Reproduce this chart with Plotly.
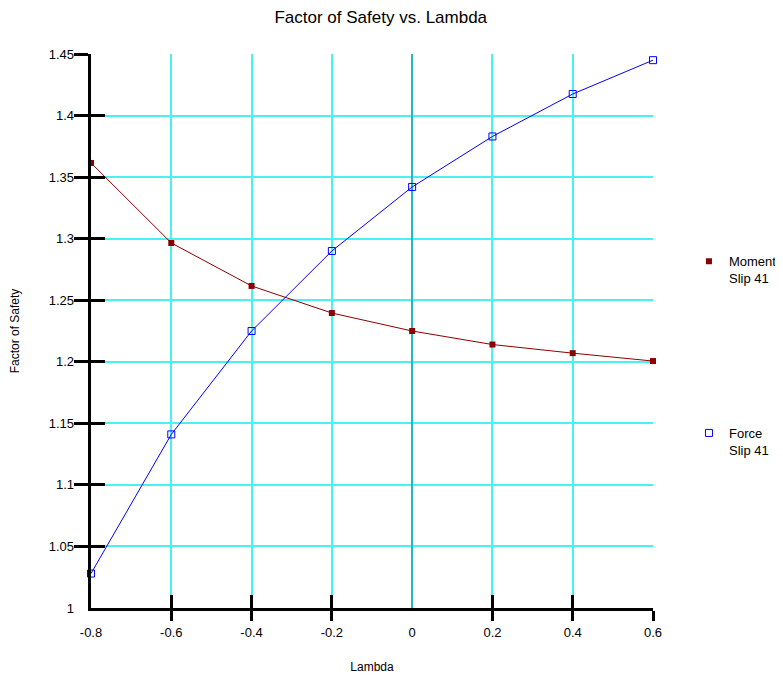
import plotly.graph_objects as go

lambdas = [-0.8, -0.6, -0.4, -0.2, 0.0, 0.2, 0.4, 0.6]
moment_fs = [1.3615, 1.2965, 1.2616, 1.2396, 1.2250, 1.2140, 1.2070, 1.2006]
force_fs = [1.0280, 1.1410, 1.2250, 1.2900, 1.3420, 1.3830, 1.4175, 1.4450]

x_ticks = [-0.8, -0.6, -0.4, -0.2, 0.0, 0.2, 0.4, 0.6]
x_tick_marks = [-0.6, -0.4, -0.2, 0.2, 0.4, 0.6]
y_ticks = [1.0, 1.05, 1.1, 1.15, 1.2, 1.25, 1.3, 1.35, 1.4, 1.45]
y_tick_marks = [1.05, 1.1, 1.15, 1.2, 1.25, 1.3, 1.35, 1.4, 1.45]

FONT = "Liberation Sans, Arial, sans-serif"
GRID = "#48f2f2"
XR = [-0.8, 0.6]
YR = [1.0, 1.45]

fig = go.Figure()
fig.add_trace(go.Scatter(
    x=lambdas, y=moment_fs, mode="lines+markers", showlegend=False,
    line=dict(color="#8b0000", width=1),
    marker=dict(symbol="square", size=6, color="#8b0000"),
    cliponaxis=False))
fig.add_trace(go.Scatter(
    x=lambdas, y=force_fs, mode="lines+markers", showlegend=False,
    line=dict(color="#0000ff", width=1),
    marker=dict(symbol="square-open", size=7, color="#0000ff", line=dict(width=1)),
    cliponaxis=False))
# legend entries (marker only)
fig.add_trace(go.Scatter(x=[None], y=[None], mode="markers", name="Moment<br>Slip 41",
                         marker=dict(symbol="square", size=6, color="#8b0000"),
                         legend="legend"))
fig.add_trace(go.Scatter(x=[None], y=[None], mode="markers", name="Force<br>Slip 41",
                         marker=dict(symbol="square-open", size=7, color="#0000ff",
                                     line=dict(width=1)),
                         legend="legend2"))
# empty traces so overlay axes render
fig.add_trace(go.Scatter(x=[None], y=[None], xaxis="x2", yaxis="y", showlegend=False, hoverinfo="skip"))
fig.add_trace(go.Scatter(x=[None], y=[None], xaxis="x3", yaxis="y", showlegend=False, hoverinfo="skip"))
fig.add_trace(go.Scatter(x=[None], y=[None], xaxis="x", yaxis="y2", showlegend=False, hoverinfo="skip"))
fig.add_trace(go.Scatter(x=[None], y=[None], xaxis="x", yaxis="y3", showlegend=False, hoverinfo="skip"))

common_off = dict(showgrid=False, zeroline=False, showline=False, automargin=False)

fig.update_layout(
    width=775, height=669,
    margin=dict(l=83, r=130, t=46, b=69, autoexpand=False),
    paper_bgcolor="white", plot_bgcolor="white",
    font=dict(family=FONT, size=13, color="black"),
    title=dict(text="Factor of Safety vs. Lambda", x=0.481, xanchor="center",
               y=0.9865, yanchor="middle", font=dict(size=17, family=FONT)),
    # main axes: grid, axis lines, outside tick marks
    xaxis=dict(range=XR, tickvals=x_tick_marks, showticklabels=False,
               ticks="outside", ticklen=10, tickwidth=3, tickcolor="black",
               showgrid=True, gridcolor=GRID, gridwidth=1.5,
               zeroline=True, zerolinecolor="#22b8c8", zerolinewidth=2,
               showline=True, linecolor="black", linewidth=3, automargin=False),
    yaxis=dict(range=YR, tickvals=y_tick_marks, showticklabels=False,
               ticks="outside", ticklen=14, tickwidth=3, tickcolor="black",
               showgrid=True, gridcolor=GRID, gridwidth=1.5, zeroline=False,
               showline=True, linecolor="black", linewidth=3, automargin=False),
    # label axes
    xaxis2=dict(overlaying="x", anchor="y", side="bottom", range=XR,
                tickvals=x_ticks, ticktext=[f"{v:g}" for v in x_ticks],
                ticks="", ticklabelstandoff=15,
                title=dict(text="Lambda", font=dict(size=12), standoff=23),
                **common_off),
    yaxis2=dict(overlaying="y", anchor="x", side="left", range=YR,
                tickvals=y_ticks, ticktext=[f"{v:g}" for v in y_ticks],
                ticks="", ticklabelstandoff=16,
                title=dict(text="Factor of Safety", font=dict(size=12), standoff=42),
                **common_off),
    # inside tick marks
    xaxis3=dict(overlaying="x", anchor="y", side="bottom", range=XR,
                tickvals=x_tick_marks, ticks="inside", ticklen=13, tickwidth=3,
                tickcolor="black", showticklabels=False, **common_off),
    yaxis3=dict(overlaying="y", anchor="x", side="left", range=YR,
                tickvals=y_tick_marks, ticks="inside", ticklen=14, tickwidth=3,
                tickcolor="black", showticklabels=False, **common_off),
    legend=dict(x=1.064, xanchor="left", y=0.653, yanchor="top",
                valign="top", font=dict(size=13), bgcolor="rgba(0,0,0,0)",
                itemwidth=30),
    legend2=dict(x=1.064, xanchor="left", y=0.343, yanchor="top",
                 valign="top", font=dict(size=13), bgcolor="rgba(0,0,0,0)",
                 itemwidth=30),
)

fig.write_html("out.html")
